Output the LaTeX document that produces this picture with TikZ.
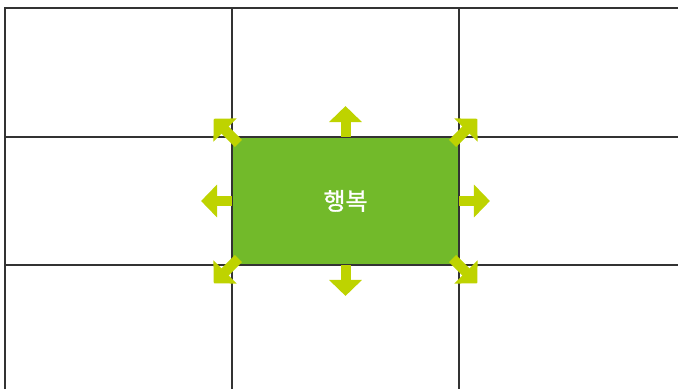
\documentclass[tikz,border=0pt]{standalone}
\usepackage{fontspec}
\newfontfamily\krfont{Noto Sans CJK KR}[FakeBold=1.2]
\usetikzlibrary{arrows.meta,positioning}
\definecolor{boxgreen}{HTML}{72BA2A}
\definecolor{arrowlime}{HTML}{BED300}
\tikzstyle{gridline} = [line width=0.8pt, draw=black!80]
\tikzstyle{spread} = [line width=7.5pt, draw=arrowlime, -{Triangle[width=24pt,length=12pt]}]

\begin{document}
\begin{tikzpicture}[x=0.75pt, y=-0.75pt]
    \useasboundingbox (0,0) rectangle (678,389);
    \node (hb) [fill=boxgreen, inner sep=0, minimum width=170.25pt, minimum height=96pt, text=white, font=\krfont\fontsize{18}{20}\selectfont] at (345.5,201) {\raisebox{1.5pt}{행복}};

    \draw [gridline] (5,389) -- (5,8) -- (678,8);
    \draw [gridline] (232,8) -- (232,389);
    \draw [gridline] (459,8) -- (459,389);
    \draw [gridline] (5,137) -- (678,137);
    \draw [gridline] (5,265) -- (678,265);

    \coordinate [above=23pt of hb.north] (tn);
    \coordinate [below=23pt of hb.south] (ts);
    \coordinate [left=23pt of hb.west] (tw);
    \coordinate [right=23pt of hb.east] (te);
    \coordinate [below right=5pt and 5pt of hb.north west] (nw0);
    \coordinate [above left=13.5pt and 13.5pt of hb.north west] (nw);
    \coordinate [below left=5pt and 5pt of hb.north east] (ne0);
    \coordinate [above right=13.5pt and 13.5pt of hb.north east] (ne);
    \coordinate [above right=5pt and 5pt of hb.south west] (sw0);
    \coordinate [below left=13.5pt and 13.5pt of hb.south west] (sw);
    \coordinate [above left=5pt and 5pt of hb.south east] (se0);
    \coordinate [below right=13.5pt and 13.5pt of hb.south east] (se);

    \draw [spread] (hb.north) -- (tn);
    \draw [spread] (hb.south) -- (ts);
    \draw [spread] (hb.west) -- (tw);
    \draw [spread] (hb.east) -- (te);
    \draw [spread] (nw0) -- (nw);
    \draw [spread] (ne0) -- (ne);
    \draw [spread] (sw0) -- (sw);
    \draw [spread] (se0) -- (se);
\end{tikzpicture}
\end{document}
